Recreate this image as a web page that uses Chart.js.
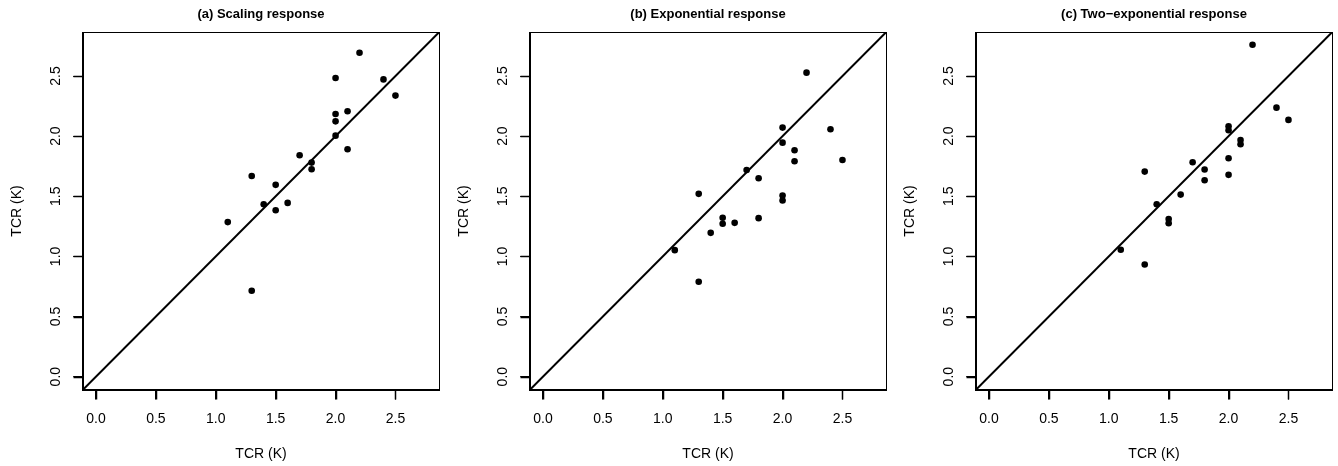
<!DOCTYPE html>
<html><head><meta charset="utf-8">
<script src="https://cdn.jsdelivr.net/npm/chart.js@4/dist/chart.umd.min.js"></script>
<style>
html,body{margin:0;padding:0;background:#fff;width:1338px;height:466px;overflow:hidden}
canvas{position:absolute;top:0;display:block}
</style></head><body>
<canvas id="c0" width="444" height="466" style="left:0px;width:444px;height:466px"></canvas>
<canvas id="c1" width="444" height="466" style="left:447px;width:444px;height:466px"></canvas>
<canvas id="c2" width="444" height="466" style="left:893px;width:444px;height:466px"></canvas>
<script>
// ---- data ----
const panelTitles = ['(a) Scaling response', '(b) Exponential response', '(c) Two\u2212exponential response'];
const axisTitle = 'TCR (K)';
const tickValues = [0, 0.5, 1.0, 1.5, 2.0, 2.5];
const axisMin = -0.111;
const axisMax = 2.866;
const diagonal = [-1, 4];

const scalingX = [2.2, 2.0, 2.4, 2.5, 2.0, 2.1, 2.0, 2.0, 2.1, 1.7, 1.8, 1.8, 1.3, 1.5, 1.4, 1.6, 1.5, 1.1, 1.3];
const scalingY = [2.694, 2.483, 2.472, 2.337, 2.184, 2.207, 2.123, 2.004, 1.891, 1.841, 1.780, 1.725, 1.669, 1.595, 1.434, 1.445, 1.384, 1.285, 0.714];

const exponentialX = [2.2, 2.0, 2.4, 2.0, 2.1, 2.1, 2.5, 1.7, 1.8, 1.3, 2.0, 2.0, 1.8, 1.5, 1.5, 1.6, 1.4, 1.1, 1.3];
const exponentialY = [2.528, 2.071, 2.057, 1.946, 1.883, 1.791, 1.802, 1.719, 1.650, 1.520, 1.506, 1.465, 1.318, 1.321, 1.271, 1.279, 1.196, 1.052, 0.789];

const twoExpX = [2.2, 2.4, 2.5, 2.0, 2.0, 2.1, 2.1, 2.0, 1.7, 1.8, 1.3, 2.0, 1.8, 1.6, 1.4, 1.5, 1.5, 1.1, 1.3];
const twoExpY = [2.760, 2.237, 2.135, 2.082, 2.049, 1.968, 1.932, 1.816, 1.783, 1.722, 1.705, 1.678, 1.633, 1.514, 1.434, 1.310, 1.276, 1.055, 0.933];

const panelX = [scalingX, exponentialX, twoExpX];
const panelY = [scalingY, exponentialY, twoExpY];

// ---- drawing ----
const FONT = "'Liberation Sans', Arial, sans-serif";
const TICK_LEN = 9.5;
Chart.defaults.font.family = FONT;
Chart.defaults.color = '#000';

const boxPlugin = {
  id: 'box',
  afterDraw(chart) {
    const a = chart.chartArea, ctx = chart.ctx;
    const xs = chart.scales.x, ys = chart.scales.y;
    ctx.save();
    ctx.fillStyle = '#000';
    ctx.strokeStyle = '#000';
    ctx.lineWidth = 1;
    ctx.strokeRect(Math.round(a.left) + 0.5, Math.round(a.top) + 0.5, Math.round(a.right - a.left) - 1, Math.round(a.bottom - a.top) - 1);
    xs.ticks.forEach(t => {
      const px = Math.round(xs.getPixelForValue(t.value));
      ctx.fillRect(px - 0.25, Math.round(a.bottom), 1.5, TICK_LEN);
    });
    ys.ticks.forEach(t => {
      const py = Math.round(ys.getPixelForValue(t.value));
      ctx.fillRect(Math.round(a.left) - TICK_LEN, py - 0.25, TICK_LEN, 1.5);
    });
    ctx.restore();
  }
};

for (let i = 0; i < 3; i++) {
  const pts = panelX[i].map((x, k) => ({x: x, y: panelY[i][k]}));
  const diag = diagonal.map(v => ({x: v, y: v}));
  new Chart(document.getElementById('c' + i), {
    type: 'scatter',
    data: {
      datasets: [
        {type: 'line', data: diag, borderColor: '#000', borderWidth: 2, pointRadius: 0, fill: false, order: 2},
        {data: pts, backgroundColor: '#000', borderWidth: 0, pointRadius: 3.3, order: 1}
      ]
    },
    options: {
      responsive: false,
      devicePixelRatio: 1,
      animation: false,
      events: [],
      layout: {padding: {left: 0, right: 4.7, top: 0, bottom: 0}},
      plugins: {
        legend: {display: false},
        tooltip: {enabled: false},
        title: {
          display: true, text: panelTitles[i], fullSize: false,
          font: {size: 13, weight: 'bold', family: FONT}, color: '#000',
          padding: {top: 7, bottom: 9.4}
        }
      },
      scales: {
        x: {
          type: 'linear', min: axisMin, max: axisMax,
          afterFit(s) { s.height = 76; },
          afterBuildTicks(s) { s.ticks = tickValues.map(v => ({value: v})); },
          ticks: {font: {size: 14}, color: '#000', padding: 11, maxRotation: 0, includeBounds: false,
                  callback: v => Number(v).toFixed(1)},
          grid: {drawOnChartArea: false, drawTicks: true, tickLength: TICK_LEN, color: '#000',
                 lineWidth: 1, tickWidth: 1, tickColor: '#000'},
          border: {display: true, color: '#000', width: 1},
          title: {display: true, text: axisTitle, font: {size: 14}, color: '#000', padding: {top: 0, bottom: 3.2}}
        },
        y: {
          type: 'linear', min: axisMin, max: axisMax,
          afterFit(s) { s.width = 82.7; },
          afterBuildTicks(s) { s.ticks = tickValues.map(v => ({value: v})); },
          ticks: {font: {size: 14}, color: '#000', padding: 7, minRotation: 90, maxRotation: 90,
                  crossAlign: 'center', includeBounds: false,
                  callback: v => Number(v).toFixed(1)},
          grid: {drawOnChartArea: false, drawTicks: true, tickLength: TICK_LEN, color: '#000',
                 lineWidth: 1, tickWidth: 1, tickColor: '#000'},
          border: {display: true, color: '#000', width: 1},
          title: {display: true, text: axisTitle, font: {size: 14}, color: '#000', padding: {top: 9, bottom: 0}}
        }
      }
    },
    plugins: [boxPlugin]
  });
}
</script>
</body></html>
